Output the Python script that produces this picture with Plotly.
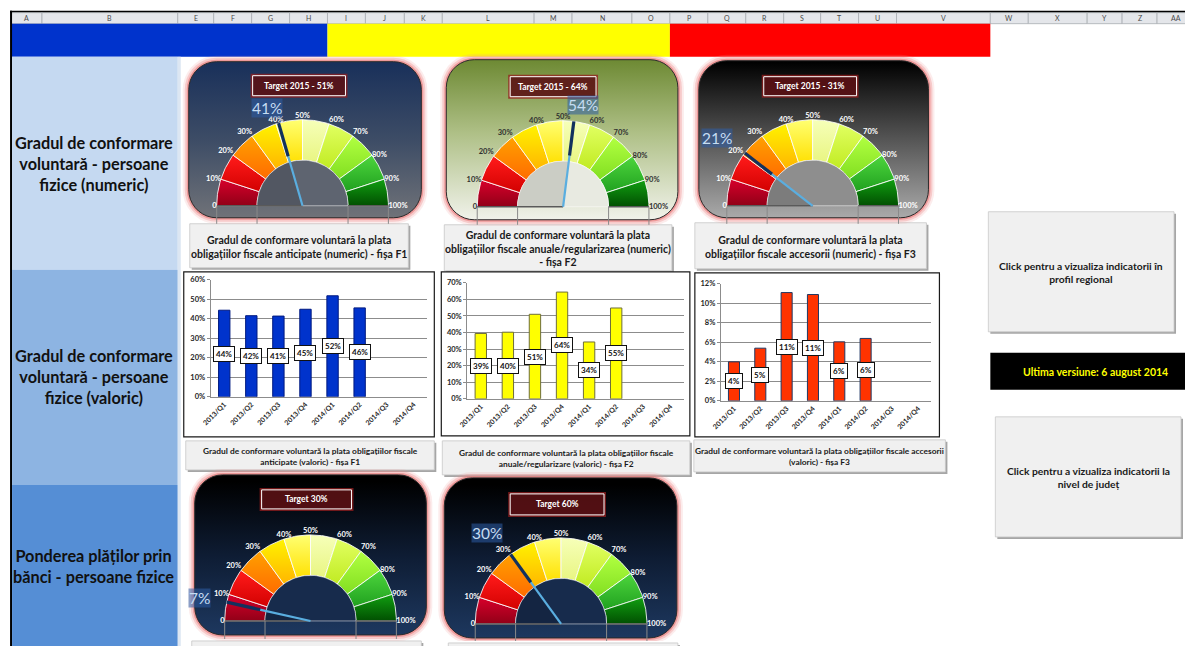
import numpy as np
import plotly.graph_objects as go

W, H = 1185, 646
FONT = "Lato, 'Noto Sans', 'DejaVu Sans', sans-serif"

# ---------------- data ----------------
quarters = ["2013/Q1", "2013/Q2", "2013/Q3", "2013/Q4", "2014/Q1", "2014/Q2", "2014/Q3", "2014/Q4"]
f1_valoric = [0.444, 0.416, 0.414, 0.449, 0.518, 0.456, None, None]
f2_valoric = [0.394, 0.402, 0.510, 0.644, 0.343, 0.548, None, None]
f3_valoric = [0.040, 0.054, 0.111, 0.109, 0.0605, 0.064, None, None]

gauge_values = [41, 54, 21, 7, 30]
gauge_targets = ["Target 2015 - 51%", "Target 2015 - 64%", "Target 2015 - 31%", "Target 30%", "Target 60%"]
gauge_bounds = [0, 10, 20, 30, 40, 50, 60, 70, 80, 90, 100]
gauge_tick_labels = ["0", "10%", "20%", "30%", "40%", "50%", "60%", "70%", "80%", "90%", "100%"]
segment_dark = ["#8C0016", "#D00000", "#FF6A00", "#FFB400", "#FFE000", "#E8F580",
                "#C0EA20", "#80DD20", "#1E9E1E", "#004A00"]
segment_light = ["#D4002A", "#FF1A1A", "#FF9F00", "#FFF200", "#FFFF70", "#F6FFB8",
                 "#E0FF60", "#B0FF40", "#4CD43C", "#109A10"]

column_letters = ["A", "B", "E", "F", "G", "H", "I", "J", "K", "L", "M", "N", "O", "P", "Q",
                  "R", "S", "T", "U", "V", "W", "X", "Y", "Z", "AA"]
column_edges = [9, 40, 176, 212, 250, 288, 326, 364, 403, 441, 533, 571, 631, 669, 707, 745,
                783, 820, 858, 896, 990, 1028, 1087, 1122, 1157, 1195]

row_titles = ["Gradul de conformare<br>voluntară - persoane<br>fizice (numeric)",
              "Gradul de conformare<br>voluntară - persoane<br>fizice (valoric)",
              "Ponderea plăților prin<br>bănci - persoane fizice"]
gauge_captions = ["Gradul de conformare voluntară la plata<br>obligațiilor fiscale anticipate (numeric) - fișa F1",
                  "Gradul de conformare voluntară la plata<br>obligațiilor fiscale anuale/regularizarea (numeric)<br>- fișa F2",
                  "Gradul de conformare voluntară la plata<br>obligațiilor fiscale accesorii (numeric) - fișa F3"]
bar_captions = ["Gradul de conformare voluntară la plata obligațiilor fiscale<br>anticipate (valoric) - fișa F1",
                "Gradul de conformare voluntară la plata obligațiilor fiscale<br>anuale/regularizare (valoric) - fișa F2",
                "Gradul de conformare voluntară la plata obligațiilor fiscale accesorii<br>(valoric) - fișa F3"]
button_texts = ["Click pentru a vizualiza indicatorii în<br>profil regional",
                "Click pentru a vizualiza indicatorii la<br>nivel de județ"]
version_text = "Ultima versiune: 6 august 2014"

# ---------------- helpers ----------------
# The page gets a default body margin and is then fitted to the window, so layout
# positions are given in window pixels and converted to paper fractions here.
SX, OX = (W + 8) / W, 8.0
SY, OY = 1.0146, 4.4


def px(x):
    return (x * SX - OX) / W


def py(y):
    return 1 - (y * SY - OY) / H


fig = go.Figure()
shapes = []
annotations = []
layout_axes = {}


def rect(x0, y0, x1, y1, fill, line_color="rgba(0,0,0,0)", lw=0, layer="below"):
    shapes.append(dict(type="rect", xref="paper", yref="paper", x0=px(x0), x1=px(x1),
                       y0=py(y1), y1=py(y0), fillcolor=fill,
                       line=dict(color=line_color, width=lw), layer=layer))


def text(x, y, s, size, color="black", bold=True, xanchor="center", yanchor="middle", align="center"):
    annotations.append(dict(x=px(x), y=py(y), xref="paper", yref="paper", text=s, showarrow=False,
                            font=dict(size=size, color=color, family=FONT,
                                      weight="bold" if bold else "normal"),
                            xanchor=xanchor, yanchor=yanchor, align=align))


def rrect(x0, y0, x1, y1, r, n=10):
    xs, ys = [], []
    corners = [(x1 - r, y0 + r, -90, 0), (x1 - r, y1 - r, 0, 90),
               (x0 + r, y1 - r, 90, 180), (x0 + r, y0 + r, 180, 270)]
    for cx, cy, a0, a1 in corners:
        for a in np.linspace(a0, a1, n):
            xs.append(cx + r * np.cos(np.radians(a)))
            ys.append(cy + r * np.sin(np.radians(a)))
    xs.append(xs[0])
    ys.append(ys[0])
    return xs, ys


# ---------------- static page frame ----------------
rect(-20, -20, W + 20, H + 20, "white")
# Excel column header row
rect(8, 11, W + 20, 13, "black")
for i, letter in enumerate(column_letters):
    x0, x1 = column_edges[i], column_edges[i + 1]
    rect(x0, 13, x1, 24, "#E4E6EA", "#A9ADB3", 0.8)
    text((x0 + x1) / 2, 18.5, letter, 7, color="#4A4A4A", bold=False)
# coloured band
rect(9, 24, 326, 57, "#0033CC")
rect(326, 24, 669, 57, "#FFFF00")
rect(669, 24, 990, 57, "#FF0000")
# left column blocks
rect(8, 11, 10, H + 20, "black")
rect(10, 57, 176, 270, "#C5D9F1")
rect(10, 270, 176, 485, "#8DB4E2")
rect(10, 485, 176, H + 20, "#558ED5")
rect(176, 57, 179, H + 20, "#DCE6F2")
for title, yc in zip(row_titles, [164, 377, 566]):
    text(92, yc, title, 16.3, color="#111111")


# caption boxes
def caption_box(x0, y0, x1, y1, s, size):
    rect(x0 + 2, y0 + 2, x1 + 2, y1 + 2, "#A6A6A6")
    rect(x0, y0, x1, y1, "#F0F0F0", "#C8C8C8", 0.8)
    if s:
        text((x0 + x1) / 2, (y0 + y1) / 2 + 1, s, size, color="#1A1A1A")


caption_box(188, 224, 407, 268, gauge_captions[0], 10.5)
caption_box(443, 225, 671, 271, gauge_captions[1], 10.5)
caption_box(694, 223, 926, 269, gauge_captions[2], 10.5)
caption_box(184, 441, 433, 470, bar_captions[0], 8.4)
caption_box(441, 441, 689, 475, bar_captions[1], 8.4)
caption_box(693, 440, 945, 472, bar_captions[2], 8.4)
caption_box(190, 641, 420, 670, "", 8)
caption_box(447, 643, 677, 670, "", 8)

# right side buttons
caption_box(988, 212, 1174, 332, button_texts[0], 10.3)
caption_box(995, 417, 1181, 537, button_texts[1], 10.3)
rect(990, 353, W + 20, 390, "black")
text(1095, 372, version_text, 10.5, color="#FFFF00")

# ---------------- page axes (for gauge panels with gradients) ----------------
layout_axes["xaxis"] = dict(domain=[0, 1], range=[OX / SX, (W + OX) / SX], visible=False,
                            fixedrange=True)
layout_axes["yaxis"] = dict(domain=[0, 1], range=[(H + OY) / SY, OY / SY], visible=False,
                            fixedrange=True)

gauge_specs = [
    dict(cx=301, cy=206, panel=(187, 62, 420, 218), target=(251, 76, 344, 96),
         grad=[[0, "#19305A"], [0.5, "#3E4D66"], [1, "#727479"]], inner="#5E6470",
         label="white"),
    dict(cx=562, cy=207, panel=(445, 60, 677, 220), target=(509, 77, 595, 97),
         grad=[[0, "#6E8A34"], [0.45, "#AFC087"], [1, "#F3F4EE"]], inner="#E8EAE1",
         label="#303030"),
    dict(cx=812, cy=206, panel=(698, 61, 928, 218), target=(763, 77, 856, 96),
         grad=[[0, "#000000"], [0.5, "#575757"], [1, "#ADADAD"]], inner="#8E8E8E",
         label="white"),
    dict(cx=309, cy=621, panel=(193, 475, 425, 635), target=(260, 490, 350, 509),
         grad=[[0, "#000000"], [0.45, "#0E1C33"], [1, "#1F3B64"]], inner="#172B4C",
         label="white"),
    dict(cx=560, cy=624, panel=(443, 478, 676, 638), target=(509, 494, 603, 515),
         grad=[[0, "#000000"], [0.45, "#0E1C33"], [1, "#1F3B64"]], inner="#172B4C",
         label="white"),
]

for g in gauge_specs:
    x0, y0, x1, y1 = g["panel"]
    for grow, col in [(6, "rgba(240,150,150,0.18)"), (4, "rgba(238,140,140,0.35)"),
                      (2, "rgba(232,120,120,0.6)")]:
        xs, ys = rrect(x0 - grow, y0 - grow, x1 + grow, y1 + grow, 28 + grow)
        fig.add_trace(go.Scatter(x=xs, y=ys, fill="toself", fillcolor=col, mode="lines",
                                 line=dict(width=0, color=col), xaxis="x", yaxis="y",
                                 hoverinfo="skip"))
    xs, ys = rrect(x0, y0, x1, y1, 28)
    fig.add_trace(go.Scatter(x=xs, y=ys, fill="toself", mode="lines",
                             fillgradient=dict(type="vertical", colorscale=g["grad"],
                                               start=y0, stop=y1),
                             line=dict(width=1, color="#2A2A2A"), xaxis="x", yaxis="y",
                             hoverinfo="skip"))
    # target box
    tx0, ty0, tx1, ty1 = g["target"]
    rect(tx0 - 2, ty0 - 2, tx1 + 2, ty1 + 2, "rgba(150,30,30,0.75)", layer="above")
    rect(tx0, ty0, tx1, ty1, "rgba(55,10,15,0.55)", "white", 1, layer="above")

for g, tgt in zip(gauge_specs, gauge_targets):
    tx0, ty0, tx1, ty1 = g["target"]
    text((tx0 + tx1) / 2, (ty0 + ty1) / 2, tgt, 8.5, color="white")

# ---------------- gauges ----------------
R = 86.0
RIN = 0.53
tick_pos = {0: "middle left", 10: "middle left", 20: "top left", 30: "top left", 40: "top center",
            50: "top center", 60: "top right", 70: "top right", 80: "middle right",
            90: "middle right", 100: "middle right"}


def ang(v):
    return np.radians(180 - 1.8 * v)


for gi, (g, val) in enumerate(zip(gauge_specs, gauge_values)):
    k = gi + 2
    xa, ya = f"x{k}", f"y{k}"
    cx, cy = g["cx"], g["cy"]
    left, right = cx - 130, cx + 130
    top, bottom = cy - 130, cy + 22
    layout_axes[f"xaxis{k}"] = dict(domain=[max(px(left), 0), px(right)],
                                    range=[-130 / R, 130 / R],
                                    visible=False, fixedrange=True, anchor=ya)
    layout_axes[f"yaxis{k}"] = dict(domain=[max(py(bottom), 0), py(top)],
                                    range=[-(bottom - cy) / R, 130 / R],
                                    visible=False, fixedrange=True, anchor=xa)
    if py(bottom) < 0:
        # keep the scale intact if the domain is clipped at the page bottom
        frac = -py(bottom) / (py(top) - py(bottom))
        span = (130 + 22) / R
        layout_axes[f"yaxis{k}"]["range"] = [-(22 / R) + frac * span, 130 / R]

    # coloured segments (vertical gradient, lighter at the top)
    for i in range(len(gauge_bounds) - 1):
        a = np.linspace(ang(gauge_bounds[i]), ang(gauge_bounds[i + 1]), 18)
        xs = np.concatenate([np.cos(a), RIN * np.cos(a[::-1]), [np.cos(a[0])]])
        ys = np.concatenate([np.sin(a), RIN * np.sin(a[::-1]), [np.sin(a[0])]])
        fig.add_trace(go.Scatter(x=xs, y=ys, fill="toself", mode="lines",
                                 fillgradient=dict(type="vertical",
                                                   colorscale=[[0, segment_dark[i]],
                                                               [1, segment_light[i]]],
                                                   start=float(ys.min()), stop=float(ys.max())),
                                 line=dict(color="rgba(255,255,255,0.85)", width=1),
                                 xaxis=xa, yaxis=ya, hoverinfo="skip"))
    # inner hole
    a = np.linspace(0, np.pi, 60)
    fig.add_trace(go.Scatter(x=np.concatenate([RIN * np.cos(a), [RIN]]),
                             y=np.concatenate([RIN * np.sin(a), [0]]),
                             fill="toself", fillcolor=g["inner"], mode="lines",
                             line=dict(color="rgba(255,255,255,0.5)", width=1),
                             xaxis=xa, yaxis=ya, hoverinfo="skip"))
    # wedge between zero and needle
    a = np.linspace(ang(0), ang(val), 30)
    fig.add_trace(go.Scatter(x=np.concatenate([[0], RIN * np.cos(a), [0]]),
                             y=np.concatenate([[0], RIN * np.sin(a), [0]]),
                             fill="toself", fillcolor="rgba(0,0,0,0.12)", mode="lines",
                             line=dict(width=0), xaxis=xa, yaxis=ya, hoverinfo="skip"))
    # baseline & leader lines
    fig.add_trace(go.Scatter(x=[-1, 0, None, RIN, 1], y=[0, 0, None, 0, 0], mode="lines",
                             line=dict(color="#5A5A5A", width=1.5), xaxis=xa, yaxis=ya,
                             hoverinfo="skip"))
    fig.add_trace(go.Scatter(x=[-1, -1, None, -RIN, -RIN, None, RIN, RIN, None, 1, 1],
                             y=[0, -0.21, None, 0, -0.21, None, 0, -0.21, None, 0, -0.21],
                             mode="lines", line=dict(color="#8A8A8A", width=1),
                             xaxis=xa, yaxis=ya, hoverinfo="skip"))
    # tick labels
    for b, lab in zip(gauge_bounds, gauge_tick_labels):
        fig.add_trace(go.Scatter(x=[np.cos(ang(b))], y=[np.sin(ang(b))], mode="text",
                                 text=[lab], textposition=tick_pos[b],
                                 textfont=dict(size=7.5, color=g["label"], family=FONT,
                                               weight="bold"),
                                 xaxis=xa, yaxis=ya, hoverinfo="skip"))
    # needle
    th = ang(val)
    fig.add_trace(go.Scatter(x=[0, 0.62 * np.cos(th)], y=[0, 0.62 * np.sin(th)], mode="lines",
                             line=dict(color="#5AAEE0", width=2.2), xaxis=xa, yaxis=ya,
                             hoverinfo="skip"))
    fig.add_trace(go.Scatter(x=[0.6 * np.cos(th), np.cos(th)], y=[0.6 * np.sin(th), np.sin(th)],
                             mode="lines", line=dict(color="#12315E", width=3.2),
                             xaxis=xa, yaxis=ya, hoverinfo="skip"))
    # value label, just outside the needle tip (kept clear of the tick labels)
    la = th + np.radians(4) * np.sin(th) * np.sign(-np.cos(th))
    if np.cos(th) < 0 and 0.55 < np.sin(th) < 0.9:
        rl = 1.37
    else:
        rl = 1.36 - 0.16 * np.sin(th)
    annotations.append(dict(x=rl * np.cos(la), y=rl * np.sin(la), xref=xa, yref=ya,
                            text=f"{val}%", showarrow=False,
                            font=dict(size=15.5, color="#C6DDF3", family=FONT),
                            bgcolor="rgba(46,92,165,0.55)", borderpad=0))

# ---------------- bar charts ----------------
bar_specs = [
    dict(vals=f1_valoric, color="#0033CC", line="#001A80", plot=(209, 280, 426, 397),
         frame=(182, 272, 433, 437), ymax=0.6, dtick=0.1),
    dict(vals=f2_valoric, color="#FFFF00", line="#6E6E3A", plot=(466, 283, 683, 399),
         frame=(440, 272, 689, 436), ymax=0.7, dtick=0.1),
    dict(vals=f3_valoric, color="#FF3300", line="#1F3864", plot=(720, 284, 931, 401),
         frame=(694, 273, 939, 437), ymax=0.12, dtick=0.02),
]

for bi, b in enumerate(bar_specs):
    k = 7 + bi
    xa, ya = f"x{k}", f"y{k}"
    fx0, fy0, fx1, fy1 = b["frame"]
    rect(fx0, fy0, fx1, fy1, "white", "#1A1A1A", 1.2)
    l, t, r, btm = b["plot"]
    fig.add_trace(go.Bar(x=quarters, y=b["vals"], marker=dict(color=b["color"],
                                                              line=dict(color=b["line"], width=1)),
                         xaxis=xa, yaxis=ya, hoverinfo="skip"))
    layout_axes[f"xaxis{k}"] = dict(domain=[px(l), px(r)], anchor=ya, type="category",
                                    range=[-0.5, 7.5], tickangle=-45, showgrid=False,
                                    showline=True, linecolor="#8C8C8C", ticks="",
                                    tickfont=dict(size=7, color="#262626", family=FONT,
                                                  weight="bold"),
                                    fixedrange=True)
    layout_axes[f"yaxis{k}"] = dict(domain=[py(btm), py(t)], anchor=xa, range=[0, b["ymax"]],
                                    dtick=b["dtick"], tickformat=".0%", showgrid=True,
                                    gridcolor="#8C8C8C", gridwidth=1, zeroline=False,
                                    showline=True, linecolor="#8C8C8C", ticks="outside",
                                    ticklen=3, tickcolor="#8C8C8C",
                                    tickfont=dict(size=7.5, color="#262626", family=FONT,
                                                  weight="bold"),
                                    fixedrange=True)
    for q, v in zip(quarters, b["vals"]):
        if v is None:
            continue
        annotations.append(dict(x=q, y=v / 2, xref=xa, yref=ya, text=f"{round(v * 100)}%",
                                showarrow=False, bgcolor="white", bordercolor="#111111",
                                borderwidth=1, borderpad=2,
                                font=dict(size=8, color="#111111", family=FONT, weight="bold")))

fig.update_layout(width=W, height=H, margin=dict(l=0, r=0, t=0, b=0),
                  paper_bgcolor="white", plot_bgcolor="rgba(0,0,0,0)", showlegend=False,
                  bargap=0.58, shapes=shapes, annotations=annotations, **layout_axes)

fig.write_html("out.html", config={"displayModeBar": False})
